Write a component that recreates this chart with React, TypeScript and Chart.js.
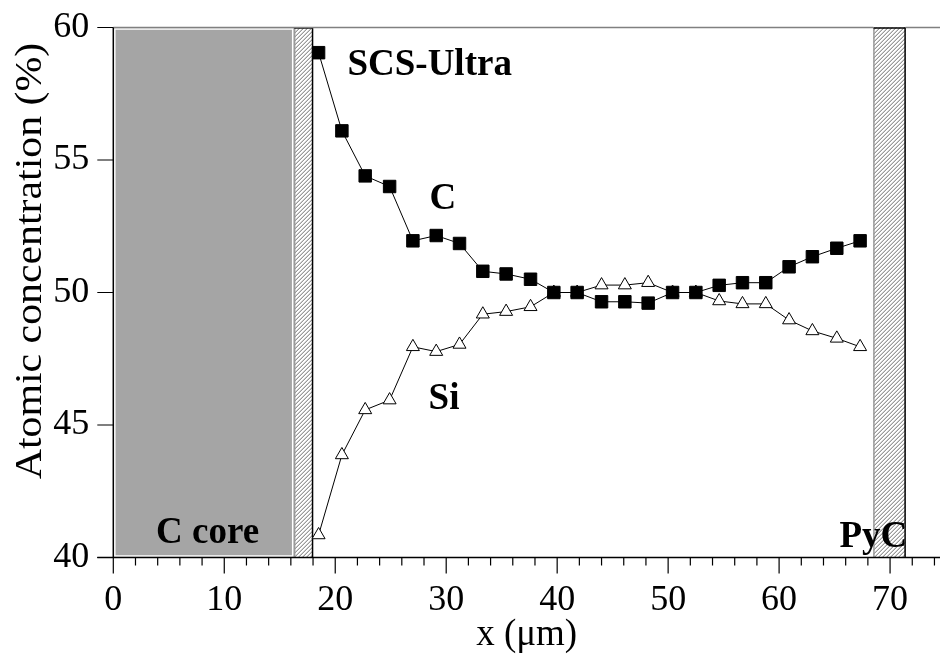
import React, { useEffect, useRef } from 'react';
import { Chart, registerables } from 'chart.js';

Chart.register(...registerables);

// ---- data ----
const xPositions = [18.5, 20.6, 22.7, 24.9, 27.0, 29.1, 31.2, 33.3, 35.4, 37.6, 39.7, 41.8, 44.0, 46.1, 48.2, 50.4, 52.5, 54.6, 56.7, 58.8, 60.9, 63.0, 65.2, 67.3];
const carbon = [59.05, 56.1, 54.4, 54.0, 51.95, 52.15, 51.85, 50.8, 50.7, 50.5, 50.0, 50.0, 49.65, 49.65, 49.6, 50.0, 50.0, 50.27, 50.37, 50.37, 50.97, 51.35, 51.67, 51.95];
const silicon = [40.85, 43.87, 45.57, 45.94, 47.95, 47.77, 48.04, 49.18, 49.28, 49.46, 50.0, 50.0, 50.28, 50.28, 50.37, 50.0, 50.0, 49.68, 49.57, 49.57, 48.96, 48.55, 48.27, 47.95];

const xMajorTicks = [0, 10, 20, 30, 40, 50, 60, 70];
const xMinorTicks = [2, 4, 6, 8, 12, 14, 16, 18, 22, 24, 26, 28, 32, 34, 36, 38, 42, 44, 46, 48, 52, 54, 56, 58, 62, 64, 66, 68, 72, 74];
const yMajorTicks = [40, 45, 50, 55, 60];

const coreRange = [0, 16.3];
const interfaceRange = [16.3, 18.0];
const pycRange = [68.5, 71.4];

const seriesNames = ['C', 'Si'];
const annotationTexts = ['SCS-Ultra', 'C', 'Si', 'C core', 'PyC'];
const xTitle = 'x (μm)';
const yTitle = 'Atomic concentration (%)';

const SERIF = '"Liberation Serif", "Times New Roman", serif';

function makeHatch(ctx: CanvasRenderingContext2D) {
  const c = document.createElement('canvas');
  c.width = 4;
  c.height = 4;
  const g = c.getContext('2d')!;
  g.fillStyle = '#ffffff';
  g.fillRect(0, 0, 4, 4);
  g.fillStyle = '#9a9a9a';
  g.fillRect(3, 0, 1, 1);
  g.fillRect(2, 1, 1, 1);
  g.fillRect(1, 2, 1, 1);
  g.fillRect(0, 3, 1, 1);
  g.fillStyle = '#d0d0d0';
  g.fillRect(2, 0, 1, 1);
  g.fillRect(1, 1, 1, 1);
  g.fillRect(0, 2, 1, 1);
  g.fillRect(3, 3, 1, 1);
  return ctx.createPattern(c, 'repeat')!;
}

function zeroPadding(s: any) {
  s.paddingTop = 0;
  s.paddingBottom = 0;
  s.paddingLeft = 0;
  s.paddingRight = 0;
}

const decorPlugin = {
  id: 'decor',
  beforeDatasetsDraw(chart: any) {
    const { ctx, chartArea: a, scales } = chart;
    const x = scales.x;
    const top = a.top;
    const bottom = a.bottom;
    ctx.save();
    // C core
    const c0 = x.getPixelForValue(coreRange[0]);
    const c1 = x.getPixelForValue(coreRange[1]);
    ctx.fillStyle = '#a5a5a5';
    ctx.fillRect(c0, top, c1 - c0, bottom - top);
    ctx.strokeStyle = '#ffffff';
    ctx.lineWidth = 1.5;
    ctx.strokeRect(c0 + 1.5, top + 1.5, c1 - c0 - 3, bottom - top - 3);

    const hatch = makeHatch(ctx);
    const bands = [interfaceRange, pycRange];
    bands.forEach((r) => {
      const b0 = x.getPixelForValue(r[0]);
      const b1 = x.getPixelForValue(r[1]);
      ctx.fillStyle = hatch;
      ctx.fillRect(b0, top, b1 - b0, bottom - top);
      ctx.lineWidth = 1.5;
      ctx.strokeStyle = '#9a9a9a';
      ctx.beginPath();
      ctx.moveTo(b0 + 0.5, top);
      ctx.lineTo(b0 + 0.5, bottom);
      ctx.stroke();
      ctx.strokeStyle = '#000000';
      ctx.beginPath();
      ctx.moveTo(b1 - 0.5, top);
      ctx.lineTo(b1 - 0.5, bottom);
      ctx.stroke();
      ctx.beginPath();
      ctx.moveTo(b0, top + 0.5);
      ctx.lineTo(b1, top + 0.5);
      ctx.stroke();
    });

    // top frame line (grey)
    const p0 = x.getPixelForValue(pycRange[0]);
    const p1 = x.getPixelForValue(pycRange[1]);
    ctx.strokeStyle = '#808080';
    ctx.lineWidth = 1.5;
    ctx.beginPath();
    ctx.moveTo(a.left, top);
    ctx.lineTo(p0, top);
    ctx.moveTo(p1, top);
    ctx.lineTo(a.right, top);
    ctx.stroke();
    ctx.restore();
  },
  afterDatasetsDraw(chart: any) {
    const { ctx, chartArea: a, scales } = chart;
    const x = scales.x;
    const y = scales.y;
    ctx.save();
    // axes
    ctx.strokeStyle = '#000000';
    ctx.lineWidth = 1.5;
    ctx.beginPath();
    ctx.moveTo(a.left, a.top);
    ctx.lineTo(a.left, a.bottom);
    ctx.moveTo(a.left - 16, a.bottom);
    ctx.lineTo(a.right, a.bottom);
    ctx.stroke();
    ctx.lineWidth = 1.2;
    ctx.beginPath();
    yMajorTicks.forEach((v) => {
      const py = y.getPixelForValue(v);
      ctx.moveTo(a.left - 16, py);
      ctx.lineTo(a.left, py);
    });
    xMajorTicks.forEach((v) => {
      const px = x.getPixelForValue(v);
      ctx.moveTo(px, a.bottom);
      ctx.lineTo(px, a.bottom + 16);
    });
    xMinorTicks.forEach((v) => {
      const px = x.getPixelForValue(v);
      ctx.moveTo(px, a.bottom);
      ctx.lineTo(px, a.bottom + 8);
    });
    ctx.stroke();

    // annotations
    ctx.fillStyle = '#000000';
    ctx.font = `bold 37px ${SERIF}`;
    ctx.textBaseline = 'alphabetic';
    ctx.textAlign = 'left';
    ctx.fillText(annotationTexts[0], x.getPixelForValue(21.1), y.getPixelForValue(58.2));
    ctx.textAlign = 'center';
    ctx.fillText(annotationTexts[1], x.getPixelForValue(29.7), y.getPixelForValue(53.14));
    ctx.fillText(annotationTexts[2], x.getPixelForValue(29.8), y.getPixelForValue(45.59));
    ctx.fillText(annotationTexts[3], x.getPixelForValue(8.5), y.getPixelForValue(40.54));
    ctx.fillText(annotationTexts[4], x.getPixelForValue(68.5), y.getPixelForValue(40.4));

    // axis titles
    ctx.font = `37px ${SERIF}`;
    ctx.textAlign = 'center';
    ctx.textBaseline = 'alphabetic';
    ctx.fillText(xTitle, (a.left + a.right) / 2, 645);
    ctx.save();
    ctx.translate(41, 261);
    ctx.rotate(-Math.PI / 2);
    ctx.scale(1.13, 1);
    ctx.fillText(yTitle, 0, 0);
    ctx.restore();
    ctx.restore();
  },
};

export default function App() {
  const ref = useRef<HTMLCanvasElement>(null);
  useEffect(() => {
    document.body.style.margin = '0';
    const canvas = ref.current!;
    const chart = new Chart(canvas, {
      type: 'line',
      data: {
        datasets: [
          {
            label: seriesNames[0],
            data: xPositions.map((xv, i) => ({ x: xv, y: carbon[i] })),
            borderColor: '#000000',
            borderWidth: 1,
            pointStyle: 'rect',
            pointRadius: 8.8,
            pointBackgroundColor: '#000000',
            pointBorderColor: '#000000',
            pointBorderWidth: 1,
            tension: 0,
          },
          {
            label: seriesNames[1],
            data: xPositions.map((xv, i) => ({ x: xv, y: silicon[i] })),
            borderColor: '#000000',
            borderWidth: 1,
            pointStyle: 'triangle',
            pointRadius: 7.5,
            pointBackgroundColor: '#ffffff',
            pointBorderColor: '#000000',
            pointBorderWidth: 1,
            tension: 0,
          },
        ],
      },
      options: {
        animation: false,
        responsive: false,
        events: [],
        layout: { autoPadding: false, padding: { top: 27.5, left: 0, right: 0, bottom: 0 } },
        plugins: { legend: { display: false }, tooltip: { enabled: false } },
        scales: {
          x: {
            type: 'linear',
            min: 0,
            max: 74.5,
            afterBuildTicks: (s: any) => {
              s.ticks = xMajorTicks.map((v) => ({ value: v }));
            },
            afterFit: (s: any) => {
              s.height = 99.5;
              zeroPadding(s);
            },
            grid: { display: false, drawTicks: false },
            border: { display: false },
            ticks: {
              color: '#000000',
              font: { family: SERIF, size: 36 },
              padding: 21,
              maxRotation: 0,
              autoSkip: false,
            },
          },
          y: {
            type: 'linear',
            min: 40,
            max: 60,
            afterBuildTicks: (s: any) => {
              s.ticks = yMajorTicks.map((v) => ({ value: v }));
            },
            afterFit: (s: any) => {
              s.width = 113.3;
              zeroPadding(s);
            },
            grid: { display: false, drawTicks: false },
            border: { display: false },
            ticks: {
              color: '#000000',
              font: { family: SERIF, size: 36 },
              padding: 24,
              autoSkip: false,
            },
          },
        },
      },
      plugins: [decorPlugin],
    });
    return () => chart.destroy();
  }, []);
  return (
    <div style={{ position: 'absolute', left: 0, top: 0, width: 940, height: 657, background: '#ffffff' }}>
      <canvas ref={ref} width={940} height={657} style={{ display: 'block' }} />
    </div>
  );
}
